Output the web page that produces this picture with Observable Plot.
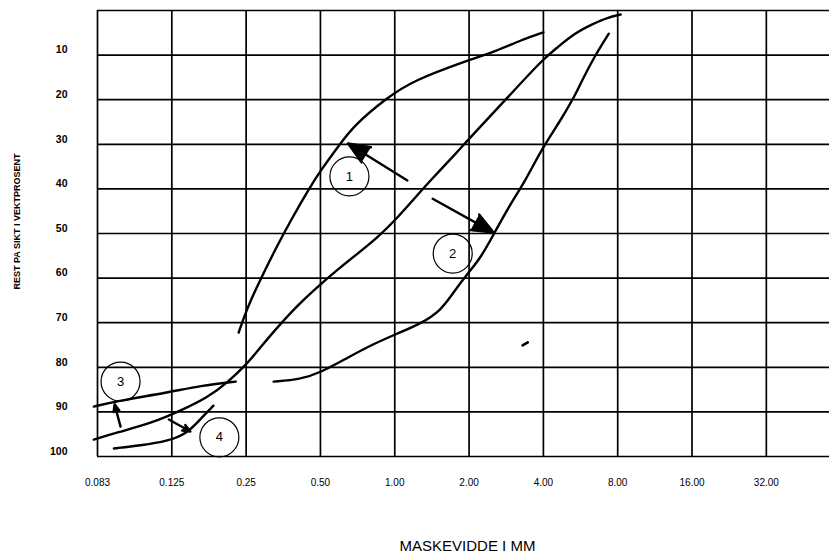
<!DOCTYPE html>
<html><head><meta charset="utf-8">
<script src="https://cdn.jsdelivr.net/npm/d3@7"></script>
<script src="https://cdn.jsdelivr.net/npm/@observablehq/plot@0.6"></script>
<style>body{margin:0;background:#fff;} #chart svg{display:block;}</style>
</head><body><div id="chart"></div>
<script>
// Sieve sizes (mm) shown on the x axis, evenly spaced (position index 0..9)
const xTickLabels = ["0.083","0.125","0.25","0.50","1.00","2.00","4.00","8.00","16.00","32.00"];
const xGrid = [0,1,2,3,4,5,6,7,8,9];
const yTicks = [10,20,30,40,50,60,70,80,90,100];
const yGrid = [0,10,20,30,40,50,60,70,80,90,100];

// Curves: x = sieve position (index units), y = rest on sieve (weight %)
const curveA_x = [-0.05,0.27,0.75,1.12,1.48,1.75,2.02,2.19,2.37,2.69,3.00,3.23,3.50,3.77,4.04,4.24,4.48,4.86,4.98,5.52,6.00,6.19,6.41,6.68,6.86,7.04];
const curveA_y = [96.2,94.6,92.4,89.7,86.8,83.4,79.1,75.6,72.0,66.1,61.4,58.1,54.5,50.9,46.4,42.6,38.1,31.4,29.1,19.5,10.8,8.3,5.2,2.9,1.6,0.9];

const curve1_x = [1.90,1.97,2.06,2.23,2.42,2.60,2.83,3.00,3.27,3.45,3.90,4.25,4.98,5.38,5.69,6.00];
const curve1_y = [72.2,68.8,65.0,59.0,52.7,47.1,40.4,35.9,29.8,25.8,19.5,15.7,11.2,9.0,6.7,4.9];

const curve2_x = [2.37,2.73,3.00,3.37,3.72,4.04,4.35,4.62,4.79,4.98,5.16,5.36,5.56,5.76,5.99,6.23,6.41,6.50,6.68,6.88];
const curve2_y = [83.2,82.7,81.2,77.8,74.7,72.4,70.2,67.3,63.2,59.0,55.4,49.3,43.3,38.1,30.7,24.7,19.5,16.4,10.5,5.2];

const curve3_x = [-0.05,0.31,0.94,1.39,1.86];
const curve3_y = [88.8,87.4,85.7,84.1,83.2];

const curve4_x = [0.22,0.58,0.94,1.21,1.39,1.56];
const curve4_y = [98.2,97.5,96.6,94.8,91.5,88.6];

const dash_x = [5.72,5.79];
const dash_y = [75.1,74.4];

// Numbered markers (circles) and their arrows
const markerLabels = ["1","2","3","4"];
const marker_x = [3.39,4.78,0.31,1.64];
const marker_y = [37.2,54.5,83.2,95.7];
const arrowFrom_x = [4.17,4.51,0.31,0.96];
const arrowFrom_y = [38.1,42.2,93.3,91.7];
const arrowTo_x = [3.37,5.33,0.23,1.25];
const arrowTo_y = [29.8,49.8,88.3,94.4];

const toPts = (xs, ys) => xs.map((x, i) => ({x, y: ys[i]}));
const curves = [
  toPts(curveA_x, curveA_y), toPts(curve1_x, curve1_y), toPts(curve2_x, curve2_y),
  toPts(curve3_x, curve3_y), toPts(curve4_x, curve4_y)
];
const markers = markerLabels.map((t, i) => ({t, x: marker_x[i], y: marker_y[i]}));
const arrows = markerLabels.map((t, i) => ({x1: arrowFrom_x[i], y1: arrowFrom_y[i], x2: arrowTo_x[i], y2: arrowTo_y[i]}));

const font = "Liberation Sans, Arial, Helvetica, sans-serif";

const chart = Plot.plot({
  width: 829, height: 555,
  marginTop: 10, marginLeft: 97, marginRight: 0, marginBottom: 99,
  style: {fontFamily: font, color: "black", background: "white"},
  x: {domain: [0, 9.85]},
  y: {domain: [100, 0]},
  marks: [
    Plot.ruleY(yGrid, {stroke: "black", strokeWidth: 1.7}),
    Plot.ruleX(xGrid, {stroke: "black", strokeWidth: 1.7}),
    Plot.axisX(xGrid, {tickSize: 0, tickPadding: 22, tickFormat: i => xTickLabels[i], fontSize: 10, label: null}),
    Plot.axisY(yTicks, {tickSize: 0, tickPadding: 30, dy: -5, fontSize: 10.5, fontWeight: "bold", label: null}),
    ...curves.map(c => Plot.line(c, {x: "x", y: "y", curve: "basis", stroke: "black", strokeWidth: 2.4, strokeLinecap: "round"})),
    Plot.line(toPts(dash_x, dash_y), {x: "x", y: "y", stroke: "black", strokeWidth: 2.6}),
    Plot.dot(markers, {x: "x", y: "y", r: 19.5, stroke: "black", strokeWidth: 1.2, fill: "none"}),
    Plot.text(markers, {x: "x", y: "y", text: "t", fontSize: 13}),
    Plot.arrow(arrows, {x1: "x1", y1: "y1", x2: "x2", y2: "y2", stroke: "black", fill: "black", strokeWidth: 2.4, headLength: 15, headAngle: 45}),
    Plot.text(["MASKEVIDDE I MM"], {text: d => d, frameAnchor: "bottom", dy: 90, dx: 4, fontSize: 15, textAnchor: "middle", lineAnchor: "middle"}),
    Plot.text(["REST PA SIKT I VEKTPROSENT"], {text: d => d, frameAnchor: "left", dx: -80, dy: -12, rotate: -90, fontSize: 9, fontWeight: "bold", textAnchor: "middle", lineAnchor: "middle"})
  ]
});
document.getElementById("chart").appendChild(chart);
</script>
</body></html>
